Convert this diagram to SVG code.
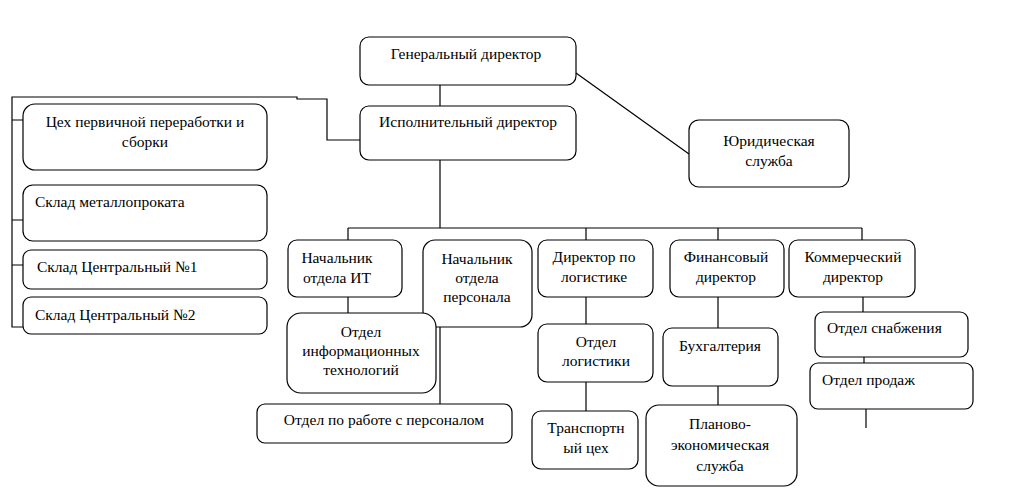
<svg xmlns="http://www.w3.org/2000/svg" width="1009" height="500" viewBox="0 0 1009 500">
<style>
.b{fill:#fff;stroke:#000;stroke-width:1.2}
.t{font-family:"Liberation Serif","Times New Roman",serif;font-size:15.5px;fill:#000}
.m{text-anchor:middle}
.c{fill:none;stroke:#000;stroke-width:1.2}
</style>
<rect width="1009" height="500" fill="#fff"/>
<g id="connectors">
<path class="c" d="M440,85V106M440,160V228M348,228H862M348,228V240M586,228V240M718,228V240M862,228V240"/>
<path class="c" d="M576,73L689,154"/>
<path class="c" d="M360,140H327V99H297V97H12V327H23M12,120H23M12,220H23M12,265H23"/>
<path class="c" d="M348,297V313M440,327V404"/>
<path class="c" d="M586,297V324M586,382V411M718,297V328M718,386V405"/>
<path class="c" d="M863,297V312M864,357V363M866,409V428"/>
</g>
<g id="gen"><rect class="b" x="360" y="37" width="216" height="48" rx="9"/><text class="t m" x="466" y="59">Генеральный директор</text></g>
<g id="isp"><rect class="b" x="360" y="106" width="216" height="54" rx="9"/><text class="t m" x="468" y="127">Исполнительный директор</text></g>
<g id="yur"><rect class="b" x="689" y="120" width="160" height="67" rx="10"/><text class="t m" x="769" y="146">Юридическая</text><text class="t m" x="769" y="166">служба</text></g>
<g id="tseh"><rect class="b" x="23" y="104" width="244" height="66" rx="12"/><text class="t m" x="145" y="127">Цех первичной переработки и</text><text class="t m" x="145" y="147">сборки</text></g>
<g id="sklad-met"><rect class="b" x="23" y="185" width="244" height="56" rx="10"/><text class="t" x="35" y="207">Склад металлопроката</text></g>
<g id="sklad1"><rect class="b" x="23" y="250" width="244" height="39" rx="8"/><text class="t" x="37" y="272">Склад Центральный №1</text></g>
<g id="sklad2"><rect class="b" x="23" y="297" width="244" height="37" rx="8"/><text class="t" x="35" y="320">Склад Центральный №2</text></g>
<g id="nach-pers"><rect class="b" x="423" y="240" width="109" height="87" rx="12"/><text class="t m" x="477" y="264">Начальник</text><text class="t m" x="477" y="283">отдела</text><text class="t m" x="477" y="302">персонала</text></g>
<g id="nach-it"><rect class="b" x="288" y="240" width="114" height="57" rx="9"/><text class="t m" x="337" y="263">Начальник</text><text class="t m" x="337" y="283">отдела ИТ</text></g>
<g id="otdel-it"><rect class="b" x="287" y="313" width="149" height="80" rx="14"/><text class="t m" x="361" y="337">Отдел</text><text class="t m" x="361" y="356">информационных</text><text class="t m" x="361" y="375">технологий</text></g>
<g id="otdel-pers"><rect class="b" x="257" y="404" width="255" height="39" rx="8"/><text class="t m" x="384" y="425">Отдел по работе с персоналом</text></g>
<g id="dir-log"><rect class="b" x="538" y="240" width="115" height="57" rx="9"/><text class="t m" x="594" y="262">Директор по</text><text class="t m" x="594" y="282">логистике</text></g>
<g id="fin-dir"><rect class="b" x="670" y="240" width="114" height="57" rx="9"/><text class="t m" x="726" y="262">Финансовый</text><text class="t m" x="726" y="282">директор</text></g>
<g id="kom-dir"><rect class="b" x="789" y="240" width="126" height="57" rx="9"/><text class="t m" x="853" y="262">Коммерческий</text><text class="t m" x="853" y="282">директор</text></g>
<g id="otdel-log"><rect class="b" x="538" y="324" width="115" height="58" rx="9"/><text class="t m" x="596" y="347">Отдел</text><text class="t m" x="596" y="366">логистики</text></g>
<g id="transport"><rect class="b" x="532" y="411" width="106" height="58" rx="9"/><text class="t m" x="586" y="433">Транспортн</text><text class="t m" x="586" y="453">ый цех</text></g>
<g id="buh"><rect class="b" x="663" y="328" width="115" height="58" rx="9"/><text class="t m" x="720" y="351">Бухгалтерия</text></g>
<g id="plan"><rect class="b" x="646" y="405" width="151" height="81" rx="13"/><text class="t m" x="720" y="429">Планово-</text><text class="t m" x="720" y="450">экономическая</text><text class="t m" x="720" y="471">служба</text></g>
<g id="snab"><rect class="b" x="815" y="312" width="153" height="45" rx="8"/><text class="t" x="827" y="333">Отдел снабжения</text></g>
<g id="prodazh"><rect class="b" x="810" y="363" width="163" height="46" rx="8"/><text class="t" x="822" y="385">Отдел продаж</text></g>
</svg>
